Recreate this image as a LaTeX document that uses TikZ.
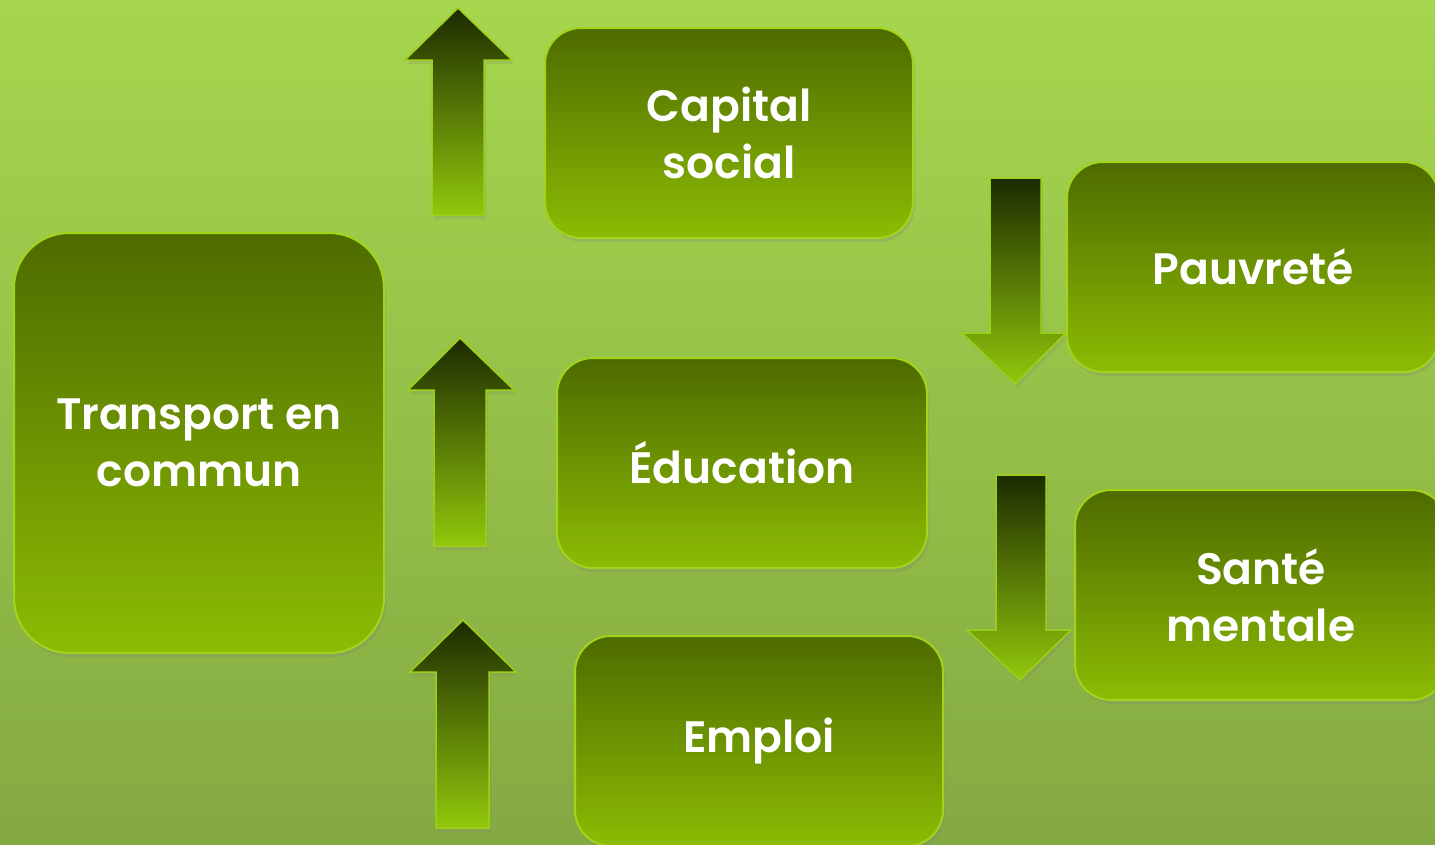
\documentclass[tikz,border=0pt]{standalone}
\usepackage{fontspec}
\setmainfont{Poppins}[BoldFont={Poppins SemiBold}]
\usetikzlibrary{shadows}
\definecolor{bgtop}{HTML}{A6D64E}
\definecolor{bgbot}{HTML}{84A942}
\definecolor{boxtop}{HTML}{4E6A00}
\definecolor{boxbot}{HTML}{8CBC04}
\definecolor{boxrim}{HTML}{A2D41C}
\definecolor{arrdark}{HTML}{1C2A00}
\definecolor{arrlight}{HTML}{92C80C}
\definecolor{arrrim}{HTML}{9CD018}
\tikzset{
  box/.style={draw=boxrim, line width=2pt, top color=boxtop, bottom color=boxbot,
    text=white, align=center, font=\fontsize{44}{57}\selectfont\bfseries,
    drop shadow={opacity=0.25, shadow xshift=2pt, shadow yshift=-4pt}},
  blockarrow/.style={draw=arrrim, line width=1.5pt, top color=arrdark, bottom color=arrlight,
    drop shadow={opacity=0.2, shadow xshift=2pt, shadow yshift=-4pt}}
}
\begin{document}
\begin{tikzpicture}[x=1pt,y=-1pt]
\useasboundingbox (0,0) rectangle (1435,844);
\clip (0,0) rectangle (1435,844);
\fill[top color=bgtop, bottom color=bgbot] (0,0) rectangle (1435,844);

\node[box, rounded corners=55pt, minimum width=370pt, minimum height=420pt] (transport) at (199,443) {Transport en\\commun};
\node[box, rounded corners=36pt, minimum width=368pt, minimum height=210pt] (capital) at (729,133) {Capital\\social};
\node[box, rounded corners=36pt, minimum width=370pt, minimum height=210pt] (education) at (742,463) {Éducation};
\node[box, rounded corners=36pt, minimum width=368pt, minimum height=210pt] (emploi) at (759,741) {Emploi};
\node[box, rounded corners=36pt, minimum width=372pt, minimum height=210pt] (pauvrete) at (1253,267) {Pauvreté};
\node[box, rounded corners=36pt, minimum width=372pt, minimum height=210pt] (sante) at (1261,595) {Santé\\mentale};

% up arrows
\path[blockarrow] (432,215) -- (432,60) -- (405,60) -- (458,8) -- (512,60) -- (484,60) -- (484,215) -- cycle;
\path[blockarrow] (434,546) -- (434,390) -- (408,390) -- (460,338) -- (514,390) -- (486,390) -- (486,546) -- cycle;
\path[blockarrow] (436,828) -- (436,672) -- (410,672) -- (463,620) -- (516,672) -- (489,672) -- (489,828) -- cycle;
% down arrows
\path[blockarrow] (990,178) -- (990,333) -- (962,333) -- (1015,384) -- (1066,333) -- (1041,333) -- (1041,178) -- cycle;
\path[blockarrow] (996,475) -- (996,630) -- (967,630) -- (1020,680) -- (1071,630) -- (1046,630) -- (1046,475) -- cycle;
\end{tikzpicture}
\end{document}
